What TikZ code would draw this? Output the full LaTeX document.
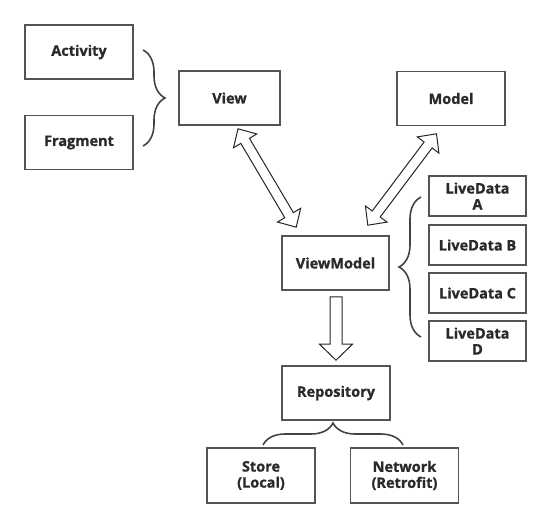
\documentclass[tikz,border=0pt]{standalone}
\usepackage{fontspec}
\setmainfont{Open Sans}[BoldFeatures={FakeBold=1}]
\usetikzlibrary{calc,decorations.pathreplacing}
\definecolor{boxline}{HTML}{50555B}
\definecolor{boxtext}{HTML}{2A2A2A}

% hollow arrow with two heads, from #1 to #2
\newcommand{\hollowdouble}[2]{%
  \coordinate (#1-b) at ($(#1)!14pt!(#2)$);
  \coordinate (#2-b) at ($(#2)!14pt!(#1)$);
  \draw[hollow] (#1)
    -- ($(#1-b)!13.5pt!90:(#2)$) -- ($(#1-b)!5pt!90:(#2)$)
    -- ($(#2-b)!5pt!-90:(#1)$) -- ($(#2-b)!13.5pt!-90:(#1)$)
    -- (#2)
    -- ($(#2-b)!13.5pt!90:(#1)$) -- ($(#2-b)!5pt!90:(#1)$)
    -- ($(#1-b)!5pt!-90:(#2)$) -- ($(#1-b)!13.5pt!-90:(#2)$) -- cycle;}
% hollow arrow with one head at #2
\newcommand{\hollowsingle}[2]{%
  \coordinate (#2-b) at ($(#2)!16pt!(#1)$);
  \draw[hollow] ($(#1)!6pt!90:(#2)$) -- ($(#2-b)!6pt!-90:(#1)$)
    -- ($(#2-b)!16.5pt!-90:(#1)$) -- (#2)
    -- ($(#2-b)!16.5pt!90:(#1)$) -- ($(#2-b)!6pt!90:(#1)$)
    -- ($(#1)!6pt!-90:(#2)$) -- cycle;}

\begin{document}
\begin{tikzpicture}[x=1pt,y=-1pt,
    box/.style={draw=boxline,line width=1.6pt,text=boxtext,align=center,
      minimum width=108pt,minimum height=54pt,inner sep=0pt,
      font=\bfseries\fontsize{14.5}{16}\selectfont},
    livebox/.style={box,minimum width=97pt,minimum height=40pt},
    hollow/.style={draw=black!85,line width=1pt,fill=white,line join=miter},
    curly/.style={draw=boxline!80!black,line width=1.6pt,decorate,
      decoration={brace,amplitude=22pt}}]
  \useasboundingbox (0,0) rectangle (551,528);
  % view side
  \node[box] (act) at (79,52) {Activity};
  \node[box] (frag) at (79,142.5) {Fragment};
  \node[box,minimum width=101pt] (view) at (229.5,98) {View};
  \node[box] (model) at (451,98.5) {Model};
  % view model and its data
  \node[box,minimum width=107pt] (vm) at (335.5,263) {ViewModel};
  \node[livebox] (lda) at (477.5,196) {LiveData\\A};
  \node[livebox] (ldb) at (477.5,245) {LiveData B};
  \node[livebox] (ldc) at (477.5,293) {LiveData C};
  \node[livebox] (ldd) at (477.5,341) {LiveData\\D};
  % data layer
  \node[box] (repo) at (336,393) {Repository};
  \node[box,minimum height=55pt] (store) at (261,475.5) {Store\\(Local)};
  \node[box,minimum height=55pt] (net) at (404.5,475.5) {Network\\(Retrofit)};

  % braces
  \draw[curly] (143,50) -- (143,146);
  \draw[curly] (421,337) -- (421,197);
  \draw[curly] (263,445) -- (403,445);

  % arrows
  \coordinate (v1) at ($(view.south)+(8.5,3)$);
  \coordinate (v2) at ($(vm.north west)+(15,-8)$);
  \coordinate (m1) at ($(model.south)+(-14.5,7.5)$);
  \coordinate (m2) at ($(vm.north east)+(-22,-10)$);
  \coordinate (r1) at ($(vm.south)+(0.5,6)$);
  \coordinate (r2) at ($(repo.north)+(0,-5)$);
  \hollowdouble{v1}{v2}
  \hollowdouble{m1}{m2}
  \hollowsingle{r1}{r2}
\end{tikzpicture}
\end{document}
